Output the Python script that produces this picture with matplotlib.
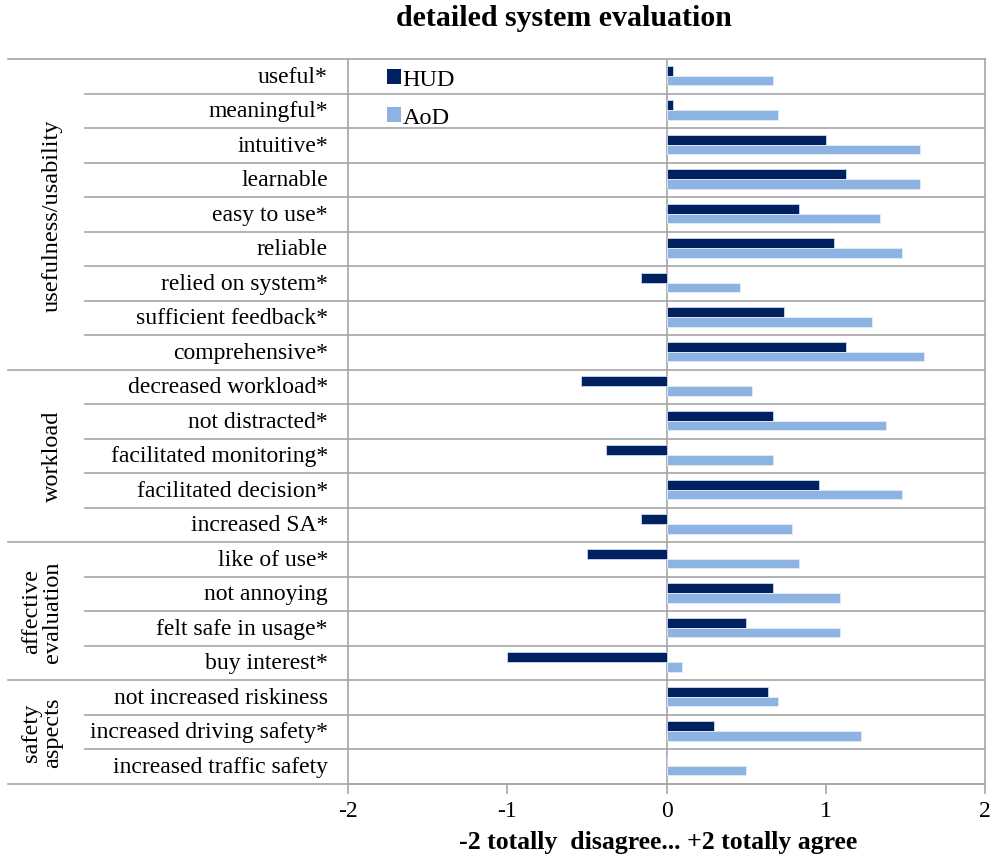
import matplotlib
matplotlib.use("Agg")
import matplotlib.pyplot as plt
from matplotlib.patches import Patch

plt.rcParams['font.family'] = ['Liberation Serif', 'DejaVu Serif']

categories = [
    "useful*", "meaningful*", "intuitive*", "learnable", "easy to use*",
    "reliable", "relied on system*", "sufficient feedback*", "comprehensive*",
    "decreased workload*", "not distracted*", "facilitated monitoring*",
    "facilitated decision*", "increased SA*",
    "like of use*", "not annoying", "felt safe in usage*", "buy interest*",
    "not increased riskiness", "increased driving safety*", "increased traffic safety",
]
hud = [0.04, 0.04, 1.00, 1.13, 0.83, 1.05, -0.16, 0.74, 1.13,
       -0.54, 0.67, -0.38, 0.96, -0.16,
       -0.50, 0.67, 0.50, -1.00,
       0.64, 0.30, 0.00]
aod = [0.67, 0.70, 1.59, 1.59, 1.34, 1.48, 0.46, 1.29, 1.62,
       0.54, 1.38, 0.67, 1.48, 0.79,
       0.83, 1.09, 1.09, 0.10,
       0.70, 1.22, 0.50]
groups = ["usefulness/usability", "workload", "affective\nevaluation", "safety\naspects"]
group_sizes = [9, 5, 4, 3]
x_ticks = [-2, -1, 0, 1, 2]
series_names = ["HUD", "AoD"]

dark = "#002060"
light = "#8DB3E2"
grid = "#A6A6A6"

W, H = 993, 862
fig = plt.figure(figsize=(W / 100, H / 100), dpi=100)
left, right, top, bottom = 348, 985, 60, 784.5
ax = fig.add_axes([left / W, 1 - bottom / H, (right - left) / W, (bottom - top) / H])

n = len(categories)
ys = list(range(n))
bh = 0.28
ax.barh([y - 0.16 for y in ys], hud, height=bh, color=dark,
        edgecolor="#C9D8EE", linewidth=0.6, zorder=3)
ax.barh([y + 0.12 for y in ys], aod, height=bh, color=light,
        edgecolor="#E4ECF7", linewidth=0.6, zorder=3)

ax.set_xlim(-2, 2)
ax.set_ylim(n - 0.5, -0.5)
ax.axvline(0, color=grid, lw=1.2, zorder=2)

for s in ["top", "left"]:
    ax.spines[s].set_visible(False)
for s in ["right", "bottom"]:
    ax.spines[s].set_color(grid)
    ax.spines[s].set_linewidth(1.2)
ax.axvline(-2, color=grid, lw=1.2, zorder=2, clip_on=False)

ax.set_xticks(x_ticks)
ax.set_xticklabels([str(t) for t in x_ticks], fontsize=17)
ax.tick_params(axis="x", direction="out", length=7, width=1.2, color=grid, pad=5)
ax.set_yticks([])

tr = ax.get_yaxis_transform()
x_group = (8 - left) / (right - left)
x_row = (85 - left) / (right - left)
x_lab = (328 - left) / (right - left)
x_grp_text = (63 - left) / (right - left)

# table rules: full-width lines at group edges, shorter ones between rows
ax.plot([x_group, 1], [-0.5, -0.5], transform=tr, color=grid, lw=1.2, clip_on=False)
start = 0
for g, size in zip(groups, group_sizes):
    end = start + size
    for r in range(start + 1, end):
        ax.plot([x_row, 1], [r - 0.5, r - 0.5], transform=tr, color=grid, lw=1.2, clip_on=False)
    ax.plot([x_group, 1], [end - 0.5, end - 0.5], transform=tr, color=grid, lw=1.2, clip_on=False)
    ax.text(x_grp_text, (start + end - 1) / 2, g, transform=tr, rotation=90,
            ha="right", va="center", multialignment="center", fontsize=17.5, linespacing=1.0)
    start = end

for y, c in zip(ys, categories):
    ax.text(x_lab, y, c, transform=tr, ha="right", va="center", fontsize=17)

handles = [Patch(facecolor=dark, edgecolor="none"), Patch(facecolor=light, edgecolor="none")]
fig.legend(handles, series_names, loc="upper left",
           bbox_to_anchor=(372 / W, 1 - 55 / H), frameon=False, fontsize=17.5,
           handlelength=0.58, handleheight=0.58, handletextpad=0.08, labelspacing=0.72,
           borderaxespad=0.2)

fig.text(564 / W, 1 - 19 / H, "detailed system evaluation", ha="center", va="center",
         fontsize=21.5, fontweight="bold")
fig.text(658 / W, 1 - 843 / H, "-2 totally  disagree... +2 totally agree", ha="center",
         va="center", fontsize=18.5, fontweight="bold")

fig.savefig("out.png", dpi=100, facecolor="white")
